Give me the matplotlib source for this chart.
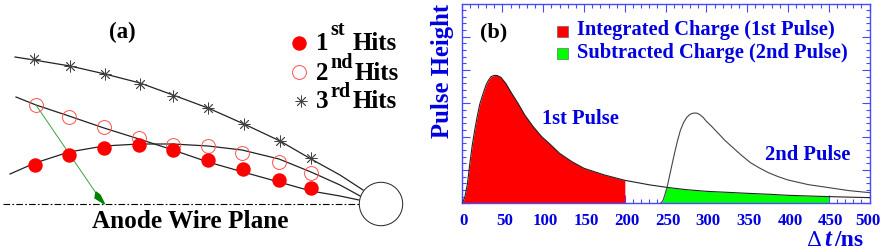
import matplotlib
matplotlib.use("Agg")
import matplotlib.pyplot as plt
from matplotlib.patches import Circle, Polygon, Rectangle
from matplotlib.ticker import MultipleLocator
from matplotlib.transforms import ScaledTranslation
import numpy as np

plt.rcParams['font.family'] = ['Liberation Serif', 'DejaVu Serif']

W, H = 881, 252

# panel (a), read in px
hits1_x = [35, 69, 104, 139, 173, 208, 243, 279, 311]
hits1_y = [165, 155, 148, 145, 150, 160, 169, 180, 188]
hits2_x = [36, 69, 104, 139, 173, 208, 242, 279, 311]
hits2_y = [105, 117, 127, 138, 145, 146, 153, 162, 173]
hits3_x = [34, 70, 105, 140, 173, 208, 244, 280, 311]
hits3_y = [59, 66, 74, 84, 96, 108, 124, 141, 158]

track1_x = [10, 35, 69, 104, 139, 173, 208, 242, 279, 311, 340, 362]
track1_y = [174, 163, 152, 146, 144, 144, 146, 150, 159, 172, 185, 197]
track2_x = [16, 36, 69, 104, 139, 173, 208, 243, 279, 311, 340, 359]
track2_y = [97, 105, 116, 128, 139, 150, 162, 172, 182, 191, 196, 200]
track3_x = [15, 34, 70, 105, 140, 173, 208, 244, 280, 311, 340, 363]
track3_y = [57, 60, 66, 74, 83, 95, 108, 124, 141, 159, 175, 190]

# panel (b)
pulse1_t = [0, 2, 4, 7, 10, 13, 16, 19, 22, 25, 28, 30, 33, 36, 39, 41, 44, 48, 54, 61, 69, 77, 87, 98, 108, 120,
            135, 150, 175, 200, 231, 251, 275, 300, 350, 378, 400, 450, 500]
pulse1_h = [0, 0.07, 0.2, 0.58, 1.2, 1.75, 2.2, 2.6, 2.96, 3.2, 3.42, 3.56, 3.7, 3.8, 3.83, 3.84, 3.83, 3.78, 3.6, 3.31,
            3.0, 2.66, 2.32, 2.0, 1.78, 1.5, 1.25, 1.05, 0.85, 0.69, 0.55, 0.48, 0.41, 0.36, 0.3, 0.27, 0.24, 0.2, 0.17]
pulse2_t = [243, 245, 247, 249, 252, 256, 260, 264, 268, 272, 276, 280, 283, 286, 289, 292, 296, 300, 306, 313, 323,
            333, 343, 354, 365, 376, 388, 400, 425, 450, 475, 500]
pulse2_h = [0, 0.02, 0.1, 0.25, 0.5, 0.95, 1.4, 1.82, 2.18, 2.42, 2.58, 2.67, 2.7, 2.71, 2.7, 2.66, 2.58, 2.46, 2.32,
            2.14, 1.88, 1.66, 1.44, 1.22, 1.06, 0.92, 0.8, 0.7, 0.56, 0.47, 0.38, 0.32]
xticks = [0, 50, 100, 150, 200, 250, 300, 350, 400, 450, 500]

blue = '#0000e0'
frame = '#4848ff'

fig = plt.figure(figsize=(W / 100, H / 100), dpi=100)

# panel (a) drawn straight in pixel coordinates
ax = fig.add_axes([0, 0, 1, 1])
ax.set_xlim(0, W)
ax.set_ylim(H, 0)
ax.axis('off')

for tx, ty in [(track1_x, track1_y), (track2_x, track2_y), (track3_x, track3_y)]:
    ax.plot(tx, ty, color='#222222', lw=0.9, zorder=2)
ax.plot([3, 359], [204, 204], color='black', lw=0.8, ls=(0, (6, 2, 1.5, 2)), zorder=1)
ax.add_patch(Circle((381, 204), 21.7, fc='white', ec='#222222', lw=0.7, zorder=3))

ax.plot([36, 98], [105, 196], color='#3fa03f', lw=0.7, zorder=2)
ax.add_patch(Polygon([[96, 192], [100, 195], [104.5, 204], [95, 198]], color='#008000', zorder=4))

ax.plot(hits1_x, hits1_y, 'o', color='#ff0000', ms=10.4, mew=0, zorder=5)
ax.plot(hits2_x, hits2_y, 'o', mfc='none', mec='#ff5050', ms=10, mew=0.7, zorder=4)
ax.plot(hits3_x, hits3_y, marker=(8, 2, 0), ls='none', color='#444444', ms=8.5, mew=0.6, zorder=4)

ax.plot([299], [42.5], 'o', color='#ff0000', ms=10.4, mew=0)
ax.plot([299], [72], 'o', mfc='none', mec='#ff5050', ms=10, mew=0.7)
ax.plot([300.5], [101], marker=(8, 2, 0), ls='none', color='#444444', ms=8.5, mew=0.6)

ax.text(122, 32, '(a)', fontsize=16.5, fontweight='bold', ha='center', va='center')
ax.text(316, 43, '1', fontsize=18, fontweight='bold', va='center')
ax.text(330, 30, 'st', fontsize=14.5, fontweight='bold', va='center')
ax.text(353, 43, 'Hits', fontsize=18, fontweight='bold', va='center')
ax.text(316, 73, '2', fontsize=18, fontweight='bold', va='center')
ax.text(330, 63, 'nd', fontsize=14.5, fontweight='bold', va='center')
ax.text(355, 73, 'Hits', fontsize=18, fontweight='bold', va='center')
ax.text(316, 102, '3', fontsize=18, fontweight='bold', va='center')
ax.text(330, 92, 'rd', fontsize=14.5, fontweight='bold', va='center')
ax.text(353, 102, 'Hits', fontsize=18, fontweight='bold', va='center')
ax.text(190, 222, 'Anode Wire Plane', fontsize=18.2, fontweight='bold', ha='center', va='center')

# panel (b)
left, right, top, bottom = 461.7, 869.5, 4, 203.3
bx = fig.add_axes([left / W, 1 - bottom / H, (right - left) / W, (bottom - top) / H])
bx.set_xlim(0, 500)
bx.set_ylim(0, 5.98)

t1 = np.array(pulse1_t, dtype=float)
h1 = np.array(pulse1_h)
t2 = np.array(pulse2_t, dtype=float)
h2 = np.array(pulse2_h)

keep = t1 <= 200
bx.fill_between(t1[keep], 0, h1[keep], color='#ff0000', lw=0, zorder=2)

# green region sits under both the old tail and the rising edge
keep = (t1 >= 251) & (t1 <= 450)
edge = t2 <= 249
bx.fill_between(np.r_[t2[edge], t1[keep]], 0, np.r_[h2[edge], h1[keep]], color='#00ff00', lw=0, zorder=2)

bx.plot(t1, h1, color='#222222', lw=0.8, zorder=3)
bx.plot(t2, h2, color='#444444', lw=0.8, zorder=3)

bx.set_xticks(xticks)
bx.xaxis.set_minor_locator(MultipleLocator(10))
bx.yaxis.set_major_locator(MultipleLocator(1))
bx.yaxis.set_minor_locator(MultipleLocator(0.2))
bx.set_yticklabels([])
bx.tick_params(which='major', direction='in', length=5.8, width=0.8, color=frame, top=True, right=True,
               labelsize=12.2, labelcolor=blue, pad=7)
bx.tick_params(which='minor', direction='in', length=2.9, width=0.8, color=frame, top=True, right=True)
for s in bx.spines.values():
    s.set_color(frame)
    s.set_linewidth(1.0)

# labels sit a little right of their ticks, the last one is pulled back inside
labs = bx.get_xticklabels()
for i, lab in enumerate(labs):
    lab.set_fontweight('bold')
    dx = -2 if i == len(labs) - 1 else 2
    lab.set_transform(lab.get_transform() + ScaledTranslation(dx / 100, 0, fig.dpi_scale_trans))

ax.text(442, 71, 'Pulse Height', rotation=90, color=blue, fontsize=17.8, fontweight='bold', ha='center', va='center')
ax.text(806, 246.5, '\u0394', family='DejaVu Serif', color=blue, fontsize=15, va='baseline', zorder=6)
ax.text(824, 246.5, 't', color=blue, fontsize=18, fontweight='bold', style='italic', va='baseline', zorder=6)
ax.text(834, 246.5, '/ns', color=blue, fontsize=17, fontweight='bold', va='baseline', zorder=6)
ax.text(494, 32, '(b)', fontsize=16, fontweight='bold', ha='center', va='center', zorder=6)

ax.add_patch(Rectangle((557, 26), 11, 11, fc='#ff0000', ec='#555555', lw=0.4, zorder=6))
ax.add_patch(Rectangle((557, 48), 11, 11, fc='#00ff00', ec='#555555', lw=0.4, zorder=6))
ax.text(577, 30.5, 'Integrated Charge (1st Pulse)', color=blue, fontsize=14.8, fontweight='bold', va='center', zorder=6)
ax.text(577, 53, 'Subtracted Charge (2nd Pulse)', color=blue, fontsize=14.8, fontweight='bold', va='center', zorder=6)
ax.text(580, 119, '1st Pulse', color=blue, fontsize=14.8, fontweight='bold', ha='center', va='center', zorder=6)
ax.text(808, 155, '2nd Pulse', color=blue, fontsize=14.9, fontweight='bold', ha='center', va='center', zorder=6)

# ax has to sit on top so the pixel-placed text shows over panel (b)
ax.set_zorder(5)
ax.patch.set_alpha(0)

fig.savefig('out.png', dpi=100)
